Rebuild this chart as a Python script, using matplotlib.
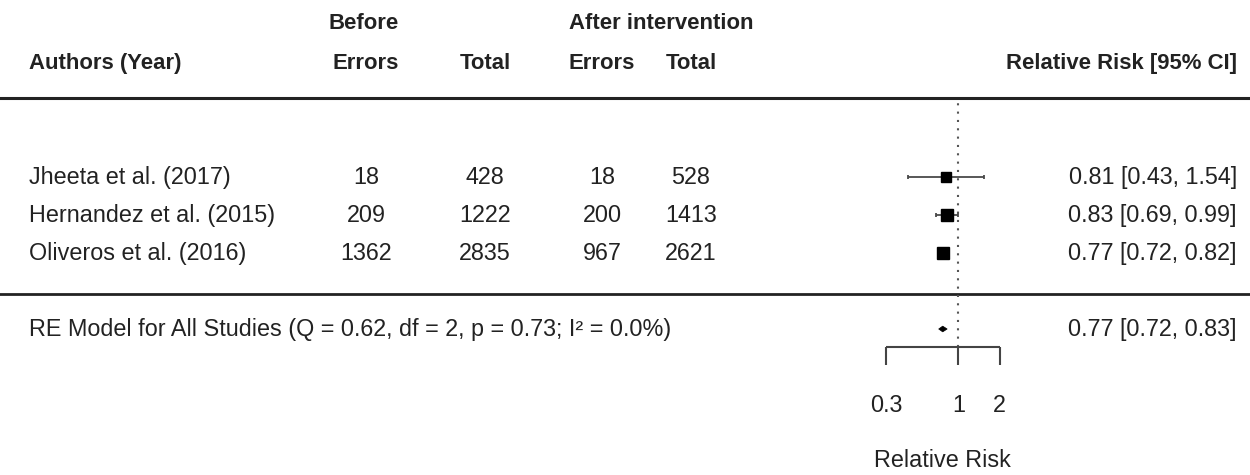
import numpy as np
from matplotlib import pyplot as plt

plt.rcParams['font.family'] = ['Liberation Sans', 'DejaVu Sans']

# 数据
authors = ['Jheeta et al. (2017)', 'Hernandez et al. (2015)', 'Oliveros et al. (2016)']
before_err = [18, 209, 1362]
before_tot = [428, 1222, 2835]
after_err = [18, 200, 967]
after_tot = [528, 1413, 2621]
rr = [0.81, 0.83, 0.77]
ci_lo = [0.43, 0.69, 0.72]
ci_hi = [1.54, 0.99, 0.82]
re_est, re_lo, re_hi = 0.77, 0.72, 0.83
re_label = 'RE Model for All Studies (Q = 0.62, df = 2, p = 0.73; I\u00b2 = 0.0%)'
ticks = [0.3, 1, 2]
tick_labels = ['0.3', '1', '2']

# 版式
fs = 16.8
fs_b = 15.9
tc = '#222222'
W = 1250
y_top, y_bot = 7.658, -4.842          # 行坐标, 每行约38像素
rows = np.arange(len(authors), 0, -1)  # 3, 2, 1
row_re = -1
sq_size = [7.4, 8.0, 8.8]

fig = plt.figure(figsize=(12.5, 4.75), dpi=100)

# 表格部分 (像素x, 行y)
ax_t = fig.add_axes([0, 0, 1, 1])
ax_t.set_xlim(0, W)
ax_t.set_ylim(y_bot, y_top)
ax_t.axis('off')

# 森林图部分 (对数x)
x_one, px_ln = 958.3, 59.7
ax_f = fig.add_axes([0, 0, 1, 1])
ax_f.set_xscale('log')
ax_f.set_xlim(np.exp(-x_one / px_ln), np.exp((W - x_one) / px_ln))
ax_f.set_ylim(y_bot, y_top)
ax_f.patch.set_alpha(0)
ax_f.axis('off')

# 表头
col_x = {'err_b': 366, 'tot_b': 485, 'err_a': 602, 'tot_a': 691}
hdr = dict(fontsize=fs_b, fontweight='bold', color=tc, va='center')
ax_t.text(29, 6, 'Authors (Year)', ha='left', **hdr)
ax_t.text(364, 7.05, 'Before', ha='center', **hdr)
ax_t.text(661, 7.05, 'After intervention', ha='center', **hdr)
ax_t.text(col_x['err_b'], 6, 'Errors', ha='center', **hdr)
ax_t.text(col_x['tot_b'], 6, 'Total', ha='center', **hdr)
ax_t.text(col_x['err_a'], 6, 'Errors', ha='center', **hdr)
ax_t.text(col_x['tot_a'], 6, 'Total', ha='center', **hdr)
ax_t.text(1237, 6, 'Relative Risk [95% CI]', ha='right', **hdr)

# 横线
ax_t.axhline(5.08, color='#222222', lw=2.2)
ax_t.axhline(-0.08, color='#222222', lw=2)

# 各研究
txt = dict(fontsize=fs, color=tc, va='center')
for i in range(len(authors)):
    y = rows[i]
    ax_t.text(29, y, authors[i], ha='left', **txt)
    ax_t.text(col_x['err_b'], y, str(before_err[i]), ha='center', **txt)
    ax_t.text(col_x['tot_b'], y, str(before_tot[i]), ha='center', **txt)
    ax_t.text(col_x['err_a'], y, str(after_err[i]), ha='center', **txt)
    ax_t.text(col_x['tot_a'], y, str(after_tot[i]), ha='center', **txt)
    ax_t.text(1237, y, '%.2f [%.2f, %.2f]' % (rr[i], ci_lo[i], ci_hi[i]), ha='right', **txt)

# 置信区间和方块
ax_f.hlines(rows, ci_lo, ci_hi, color='#4a4a4a', lw=1.3)
ax_f.vlines(ci_lo, rows - 0.05, rows + 0.05, color='#4a4a4a', lw=1.3)
ax_f.vlines(ci_hi, rows - 0.05, rows + 0.05, color='#4a4a4a', lw=1.3)
for i in range(len(rr)):
    ax_f.plot(rr[i], rows[i], marker='s', ms=sq_size[i], color='black', mec='black', ls='none')

# 合并效应
ax_t.text(29, row_re, re_label, ha='left', **txt)
ax_t.text(1237, row_re, '%.2f [%.2f, %.2f]' % (re_est, re_lo, re_hi), ha='right', **txt)
h = 0.075
ax_f.fill([re_lo, re_est, re_hi, re_est], [row_re, row_re + h, row_re, row_re - h],
          color='black', lw=0.5)

# 参考线
ax_f.vlines(1, -1.47, 5.08, color='#555555', lw=1.5, linestyles=(0, (1, 3)))

# 坐标轴
y_ax = -1.47
ax_f.hlines(y_ax, min(ticks), max(ticks), color='#444444', lw=1.5)
ax_f.vlines(ticks, y_ax - 0.48, y_ax, color='#444444', lw=1.5)
for t, lab in zip(ticks, tick_labels):
    ax_f.text(t, -3.0, lab, ha='center', va='center', fontsize=fs, color=tc)
ax_t.text(942, -4.45, 'Relative Risk', ha='center', va='center', fontsize=fs, color=tc)

fig.savefig('out.png', dpi=100)
